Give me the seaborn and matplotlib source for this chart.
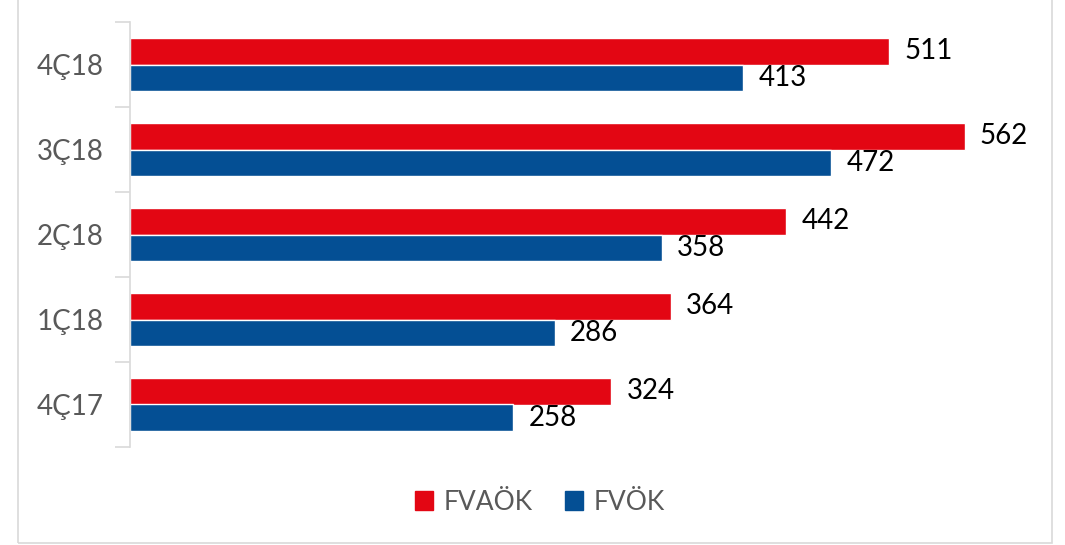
import numpy as np
import pandas as pd
import matplotlib
matplotlib.use('Agg')
import matplotlib.pyplot as plt
import seaborn as sns
from matplotlib.patches import Rectangle

quarters = ['4Ç18', '3Ç18', '2Ç18', '1Ç18', '4Ç17']
fvaok = [511, 562, 442, 364, 324]
fvok = [413, 472, 358, 286, 258]
series_names = ['FVAÖK', 'FVÖK']
colors = ['#E30613', '#044F94']

df = pd.DataFrame({
    'quarter': quarters * 2,
    'value': fvaok + fvok,
    'series': [series_names[0]] * len(quarters) + [series_names[1]] * len(quarters),
})

sns.set_style('white')
plt.rcParams['font.family'] = ['Lato', 'DejaVu Sans']

fig = plt.figure(figsize=(10.65, 5.45), dpi=100)
ax = fig.add_axes([130 / 1065, 1 - 447 / 545, 600 * 1.485 / 1065, 425 / 545])

sns.barplot(data=df, y='quarter', x='value', hue='series', order=quarters,
            hue_order=series_names, palette=colors, orient='h', width=0.63,
            saturation=1, ax=ax, legend=False)

for cont in ax.containers:
    ax.bar_label(cont, padding=11, fontsize=20, color='black')

ax.set_xlim(0, 600)
ax.set_ylim(len(quarters) - 0.5, -0.5)
ax.set_xlabel('')
ax.set_ylabel('')
ax.set_xticks([])
ax.tick_params(axis='y', which='major', left=False, length=0, labelsize=20,
               labelcolor='#595959', pad=19)
ax.set_yticks(np.arange(-0.5, len(quarters)), minor=True)
ax.tick_params(axis='y', which='minor', left=True, length=11, width=1.2,
               color='#D9D9D9', direction='out')
for s in ['top', 'right', 'bottom']:
    ax.spines[s].set_visible(False)
ax.spines['left'].set_color('#D9D9D9')
ax.spines['left'].set_linewidth(1.2)

handles = [Rectangle((0, 0), 1, 1, color=c) for c in colors]
fig.legend(handles, series_names, loc='center', bbox_to_anchor=(540 / 1065, 1 - 502 / 545),
           ncol=2, frameon=False, fontsize=19, handlelength=0.7, handleheight=0.7,
           handletextpad=0.4, columnspacing=1.2, labelcolor='#595959')

fig.patches.append(Rectangle((18 / 1065, 2 / 545), (1052 - 18) / 1065, 1.2,
                             transform=fig.transFigure, fill=False,
                             edgecolor='#D9D9D9', linewidth=1.2))

fig.savefig('out.png', dpi=100)
